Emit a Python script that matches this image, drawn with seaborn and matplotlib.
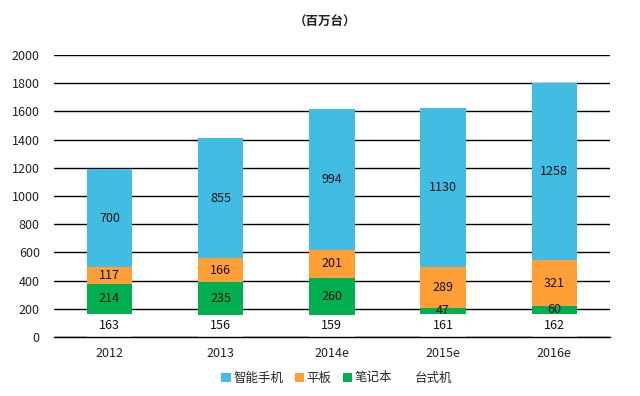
import numpy as np
import pandas as pd
import seaborn as sns
from matplotlib import pyplot as plt
from matplotlib.patches import Patch

years = ["2012", "2013", "2014e", "2015e", "2016e"]
desktop = [163, 156, 159, 161, 162]
laptop = [214, 235, 260, 47, 60]
tablet = [117, 166, 201, 289, 321]
phone = [700, 855, 994, 1130, 1258]

series_names = ["智能手机", "平板", "笔记本", "台式机"]
colors = {"智能手机": "#41BDE3", "平板": "#FF9F36", "笔记本": "#00B050", "台式机": "#FFFFFF"}

sns.set_theme(style="white")
plt.rcParams["font.family"] = ["Noto Sans CJK SC", "DejaVu Sans"]

# cumulative tops, bottom-up: desktop, laptop, tablet, phone
stack = [("台式机", desktop), ("笔记本", laptop), ("平板", tablet), ("智能手机", phone)]
bottoms = np.zeros(len(years))
tops = {}
mids = {}
for name, vals in stack:
    v = np.array(vals, dtype=float)
    tops[name] = bottoms + v
    mids[name] = bottoms + v / 2
    bottoms = bottoms + v

fig, ax = plt.subplots(figsize=(6.4, 3.96), dpi=100)
fig.subplots_adjust(left=0.084, right=0.953, top=0.861, bottom=0.149)

# draw from tallest to shortest so each layer overlays the previous one
for name in ["智能手机", "平板", "笔记本", "台式机"]:
    df = pd.DataFrame({"year": years, "top": tops[name]})
    sns.barplot(data=df, x="year", y="top", color=colors[name], width=0.41,
                saturation=1, linewidth=0, edgecolor="none", ax=ax, zorder=3)

for name, vals in stack:
    for i, v in enumerate(vals):
        ax.text(i, mids[name][i], str(v), ha="center", va="center",
                fontsize=9, color="#111111", zorder=5)

ax.set_ylim(0, 2000)
ax.set_yticks(range(0, 2001, 200))
ax.set_xlim(-0.5, 4.5)
ax.yaxis.grid(True, color="black", linewidth=1)
ax.set_axisbelow(True)
for s in ["left", "right", "top"]:
    ax.spines[s].set_visible(False)
ax.spines["bottom"].set_color("black")
ax.spines["bottom"].set_linewidth(1)
ax.spines["bottom"].set_zorder(6)
ax.tick_params(axis="both", length=0, labelsize=9, colors="#222222")
ax.tick_params(axis="y", pad=10)
ax.tick_params(axis="x", pad=7)
ax.set_xlabel("")
ax.set_ylabel("")

fig.text(325 / 640, 1 - 22 / 396, "（百万台）", ha="center", va="center",
         fontsize=9, fontweight="bold", color="#222222")

handles = [Patch(facecolor=colors[n], edgecolor="none", label=n) for n in series_names]
fig.legend(handles=handles, loc="center", bbox_to_anchor=(337 / 640, 1 - 378 / 396),
           ncol=4, frameon=False, fontsize=9, handlelength=0.75, handleheight=0.75,
           handletextpad=0.2, columnspacing=0.9)

plt.savefig("out.png", dpi=100)
plt.close(fig)
